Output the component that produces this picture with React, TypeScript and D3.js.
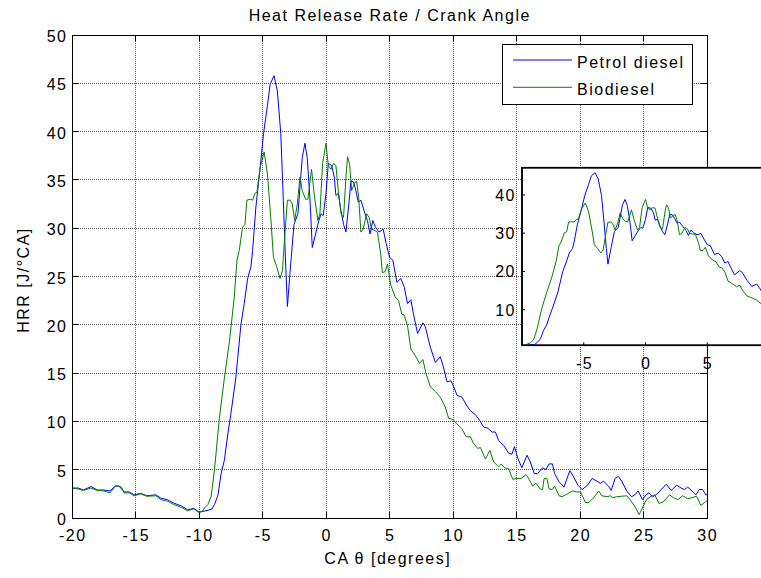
import React from "react";
import * as d3 from "d3";

// Crank angle (degrees) and heat release rate (J/°CA)
const petrolX = [-20, -19.5, -19.1, -18.5, -18, -17.5, -17, -16.6, -16.3, -15.9, -15.5, -15.1, -14.6, -14.1, -13.4, -13, -12.5, -12, -11.4, -10.9, -10.4, -10, -9.45, -9.0, -8.78, -8.5, -8.26, -8.0, -7.74, -7.5, -7.1, -6.7, -6.44, -6.17, -5.91, -5.78, -5.52, -5.18, -4.92, -4.61, -4.4, -4.09, -3.83, -3.56, -3.36, -3.17, -3.04, -2.78, -2.52, -2.21, -1.87, -1.66, -1.48, -1.27, -1.08, -0.82, -0.56, -0.38, -0.22, 0, 0.18, 0.44, 0.65, 0.78, 0.97, 1.18, 1.38, 1.57, 1.83, 1.96, 2.17, 2.35, 2.54, 2.75, 3.0, 3.26, 3.47, 3.68, 3.9, 4.17, 4.5, 4.74, 5.0, 5.26, 5.58, 5.89, 6.16, 6.42, 6.68, 6.89, 7.21, 7.63, 7.82, 8.21, 8.61, 9.0, 9.21, 9.53, 9.84, 10.05, 10.32, 10.71, 11.05, 11.37, 11.76, 12.1, 12.42, 12.74, 13.08, 13.34, 13.6, 14.0, 14.38, 14.64, 14.84, 15.1, 15.42, 15.83, 16.09, 16.4, 16.66, 17.05, 17.31, 17.57, 17.83, 18.0, 18.35, 18.74, 19.2, 19.52, 19.83, 20.17, 20.6, 20.95, 21.34, 21.6, 21.86, 22.25, 22.45, 22.77, 23.03, 23.29, 23.68, 24.06, 24.32, 24.58, 24.92, 25.18, 25.44, 25.7, 26.0, 26.4, 26.79, 27.18, 27.62, 27.96, 28.22, 28.48, 28.82, 29.13, 29.4, 29.65, 29.9, 30];
const petrolY = [3.1, 3.1, 2.9, 3.25, 2.9, 2.9, 2.8, 3.3, 3.3, 2.7, 2.7, 2.4, 2.55, 2.3, 2.4, 2.05, 1.9, 1.55, 1.25, 0.85, 1.0, 0.6, 0.75, 0.9, 1.4, 2.4, 4.6, 6.0, 8.6, 10.7, 14.5, 20.0, 22.2, 24.8, 26.0, 27.7, 32.2, 36.3, 39.8, 42.7, 44.9, 45.8, 44.2, 39.8, 32.9, 26.0, 21.9, 26.3, 30.4, 31.5, 37.3, 38.8, 37.3, 33.2, 28.0, 29.4, 30.8, 31.5, 31.3, 33.6, 36.7, 36.5, 35.3, 33.4, 33.6, 31.8, 30.4, 29.6, 32.9, 34.9, 34.8, 33.9, 32.7, 32.9, 31.8, 30.8, 29.4, 30.8, 30.1, 29.6, 29.9, 28.4, 27.0, 26.7, 24.4, 24.8, 23.9, 22.2, 22.6, 21.1, 19.1, 20.2, 19.8, 17.7, 16.1, 16.7, 15.8, 14.1, 14.2, 13.6, 12.7, 12.5, 11.7, 11.1, 10.7, 10.1, 9.4, 9.3, 8.9, 8.9, 8.0, 7.5, 6.7, 6.6, 7.4, 6.2, 5.2, 6.5, 5.8, 4.6, 4.6, 5.2, 5.0, 5.6, 5.6, 4.6, 3.75, 3.2, 4.9, 4.2, 3.4, 2.95, 3.4, 4.1, 3.8, 3.6, 3.8, 3.3, 2.85, 4.1, 4.3, 3.8, 2.8, 2.2, 2.4, 2.8, 1.9, 2.4, 2.6, 2.2, 2.4, 2.95, 3.5, 2.85, 3.4, 3.1, 2.95, 3.2, 2.8, 2.4, 2.95, 2.95, 2.4, 2.4];

const bioX = [-20, -19.5, -19.1, -18.5, -18, -17.5, -17, -16.6, -16.4, -16.1, -15.9, -15.5, -15.1, -14.6, -14.1, -13.4, -13, -12.5, -12, -11.4, -10.9, -10.4, -10, -9.7, -9.56, -9.3, -9.05, -8.78, -8.4, -8.0, -7.6, -7.22, -7.01, -6.83, -6.57, -6.38, -6.23, -5.97, -5.78, -5.6, -5.44, -5.18, -4.87, -4.61, -4.35, -4.14, -3.88, -3.62, -3.43, -3.25, -3.04, -2.83, -2.65, -2.47, -2.26, -2.05, -1.87, -1.61, -1.42, -1.14, -0.9, -0.64, -0.48, -0.27, 0, 0.18, 0.39, 0.6, 0.78, 0.97, 1.18, 1.38, 1.57, 1.7, 1.86, 2.02, 2.23, 2.41, 2.57, 2.75, 2.93, 3.2, 3.4, 3.58, 3.79, 4.05, 4.31, 4.44, 4.66, 4.84, 5.1, 5.45, 5.71, 5.97, 6.16, 6.42, 6.68, 7.03, 7.37, 7.63, 7.89, 8.21, 8.61, 9.0, 9.39, 9.66, 10.0, 10.26, 10.71, 11.05, 11.37, 11.63, 11.95, 12.16, 12.55, 12.9, 13.2, 13.6, 13.8, 14.06, 14.38, 14.71, 14.97, 15.36, 15.75, 16.0, 16.27, 16.53, 16.87, 17.05, 17.18, 17.39, 17.57, 17.83, 18.0, 18.35, 18.6, 19.0, 19.4, 19.73, 20.04, 20.25, 20.43, 20.69, 21.08, 21.47, 21.73, 22.12, 22.38, 22.58, 22.9, 23.29, 23.68, 23.94, 24.32, 24.66, 24.92, 25.23, 25.55, 25.88, 26.22, 26.58, 27.05, 27.36, 27.7, 28.09, 28.48, 28.82, 29.18, 29.52, 29.9, 30];
const bioY = [3.1, 3.0, 2.85, 3.1, 2.85, 2.8, 2.6, 3.3, 3.35, 3.2, 2.6, 2.6, 2.3, 2.5, 2.25, 2.3, 1.9, 1.75, 1.4, 1.1, 0.75, 0.95, 0.55, 0.75, 1.05, 1.4, 2.2, 5.0, 10.3, 14.5, 18.3, 22.9, 26.7, 27.7, 30.1, 30.4, 32.9, 33.0, 32.9, 33.6, 33.7, 36.3, 37.9, 35.6, 31.1, 27.0, 26.0, 24.8, 25.6, 29.1, 32.9, 32.9, 32.5, 30.8, 32.5, 35.3, 33.9, 33.0, 33.0, 36.1, 33.2, 30.8, 31.5, 36.7, 38.8, 36.5, 36.1, 36.7, 36.5, 33.9, 31.5, 31.1, 35.3, 37.4, 36.6, 33.9, 34.6, 34.9, 33.2, 29.6, 29.9, 31.5, 31.1, 29.9, 29.8, 29.6, 27.3, 25.4, 25.5, 26.3, 24.1, 22.9, 22.5, 21.1, 21.0, 19.9, 17.5, 16.8, 16.0, 16.4, 14.9, 13.6, 13.1, 12.5, 11.5, 10.3, 10.2, 9.8, 9.2, 8.4, 8.4, 7.7, 7.2, 7.3, 6.1, 7.0, 5.8, 5.3, 5.6, 5.2, 5.1, 4.0, 4.1, 4.1, 4.5, 4.0, 3.3, 3.6, 3.0, 2.95, 4.1, 4.1, 3.0, 2.95, 3.3, 2.3, 2.2, 2.5, 2.8, 2.7, 2.7, 2.1, 1.6, 1.6, 2.1, 2.8, 2.3, 2.2, 2.3, 2.1, 2.2, 2.25, 2.3, 1.9, 1.2, 0.35, 1.05, 1.9, 2.2, 2.4, 1.5, 1.7, 2.4, 2.1, 1.9, 2.3, 2.0, 2.1, 2.25, 1.3, 1.7, 1.8];

const xTicks = [-20, -15, -10, -5, 0, 5, 10, 15, 20, 25, 30];
const yTicks = [0, 5, 10, 15, 20, 25, 30, 35, 40, 45, 50];
const insetXTicks = [-5, 0, 5];
const insetYTicks = [10, 20, 30, 40];
const seriesNames = ["Petrol diesel", "Biodiesel"];
const seriesColors = ["#0000ff", "#008000"];

const FONT = "'Liberation Sans', Arial, Helvetica, sans-serif";
const LS = 1.5;

export default function App() {
  const x = d3.scaleLinear().domain([-20, 30]).range([72, 707]);
  const y = d3.scaleLinear().domain([0, 50]).range([518, 35]);
  const ix = d3.scaleLinear().domain([-10, 10]).range([522, 769]);
  const iy = d3.scaleLinear().domain([0.7, 47.1]).range([345.3, 167.7]);

  const petrol = petrolX.map((v, i) => [v, petrolY[i]] as [number, number]);
  const bio = bioX.map((v, i) => [v, bioY[i]] as [number, number]);
  const series = [petrol, bio];

  const mainLine = d3.line<[number, number]>().x(d => x(d[0])).y(d => y(d[1]));
  const insetLine = d3.line<[number, number]>().x(d => ix(d[0])).y(d => iy(d[1]));

  const [x0, x1] = x.range();
  const [y0, y1] = y.range();
  const tl = 6;

  return (
    <svg width={761} height={578} style={{ position: "absolute", left: 0, top: 0, background: "#fff" }} fontFamily={FONT}>
      <rect x={0} y={0} width={761} height={578} fill="#fff" />
      <defs>
        <clipPath id="mainClip"><rect x={x0} y={y1} width={x1 - x0} height={y0 - y1} /></clipPath>
        <clipPath id="insetClip"><rect x={ix(-10)} y={iy.range()[1]} width={ix(10) - ix(-10)} height={iy.range()[0] - iy.range()[1]} /></clipPath>
      </defs>
      {/* grid */}
      <g stroke="#555" strokeWidth={1} strokeDasharray="1,1" shapeRendering="crispEdges">
        {xTicks.map(t => <line key={"gx" + t} x1={x(t)} x2={x(t)} y1={y1} y2={y0} />)}
        {yTicks.map(t => <line key={"gy" + t} x1={x0} x2={x1} y1={y(t)} y2={y(t)} />)}
      </g>
      {/* ticks */}
      <g stroke="#000" strokeWidth={1} shapeRendering="crispEdges">
        {xTicks.map(t => <line key={"tb" + t} x1={x(t)} x2={x(t)} y1={y0} y2={y0 - tl} />)}
        {xTicks.map(t => <line key={"tt" + t} x1={x(t)} x2={x(t)} y1={y1} y2={y1 + tl} />)}
        {yTicks.map(t => <line key={"tl" + t} x1={x0} x2={x0 + tl} y1={y(t)} y2={y(t)} />)}
        {yTicks.map(t => <line key={"tr" + t} x1={x1} x2={x1 - tl} y1={y(t)} y2={y(t)} />)}
      </g>
      {/* data */}
      <g clipPath="url(#mainClip)" fill="none">
        {series.map((s, i) => (
          <path key={"m" + i} d={mainLine(s) || ""} stroke={seriesColors[i]} strokeWidth={1} strokeLinejoin="round" />
        ))}
      </g>
      {/* frame */}
      <rect x={x0} y={y1} width={x1 - x0} height={y0 - y1} fill="none" stroke="#000" strokeWidth={1} shapeRendering="crispEdges" />
      {/* tick labels */}
      <g fontSize={16} fill="#000" letterSpacing={LS}>
        {xTicks.map(t => (
          <text key={"lx" + t} x={x(t) + LS / 2} y={541} textAnchor="middle">{t}</text>
        ))}
        {yTicks.map(t => (
          <text key={"ly" + t} x={66 + LS} y={y(t) + 7} textAnchor="end">{t}</text>
        ))}
      </g>
      {/* title and axis labels */}
      <text x={389 + LS / 2} y={21} textAnchor="middle" fontSize={16} letterSpacing={LS}>Heat Release Rate / Crank Angle</text>
      <text x={387 + LS / 2} y={564} textAnchor="middle" fontSize={16} letterSpacing={LS}>CA θ [degrees]</text>
      <text transform="translate(29,280) rotate(-90)" textAnchor="middle" fontSize={16} letterSpacing={LS}>HRR [J/°CA]</text>
      {/* legend */}
      <g>
        <rect x={502} y={44.5} width={190} height={59.5} fill="#fff" stroke="#000" strokeWidth={1} shapeRendering="crispEdges" />
        {seriesNames.map((n, i) => (
          <g key={"lg" + i}>
            <line x1={513} x2={572} y1={60 + i * 27.3} y2={60 + i * 27.3} stroke={seriesColors[i]} strokeWidth={1} />
            <text x={577} y={67.5 + i * 27.3} fontSize={16} letterSpacing={LS}>{n}</text>
          </g>
        ))}
      </g>
      {/* inset */}
      <g>
        <rect x={ix(-10)} y={iy.range()[1]} width={ix(10) - ix(-10)} height={iy.range()[0] - iy.range()[1]} fill="#fff" stroke="#000" strokeWidth={1.5} />
        <g clipPath="url(#insetClip)" fill="none">
          {series.map((s, i) => (
            <path key={"i" + i} d={insetLine(s) || ""} stroke={seriesColors[i]} strokeWidth={1} strokeLinejoin="round" />
          ))}
        </g>
        <rect x={ix(-10)} y={iy.range()[1]} width={ix(10) - ix(-10)} height={iy.range()[0] - iy.range()[1]} fill="none" stroke="#000" strokeWidth={1.5} />
        <g stroke="#000" strokeWidth={1}>
          {insetXTicks.map(t => <line key={"itx" + t} x1={ix(t)} x2={ix(t)} y1={iy.range()[0]} y2={iy.range()[0] - 3} />)}
          {insetYTicks.map(t => <line key={"ity" + t} x1={ix(-10)} x2={ix(-10) + 3} y1={iy(t)} y2={iy(t)} />)}
        </g>
        <g fontSize={16} fill="#000" letterSpacing={LS}>
          {insetXTicks.map(t => (
            <text key={"ilx" + t} x={ix(t) + LS / 2} y={369} textAnchor="middle">{t}</text>
          ))}
          {insetYTicks.map(t => (
            <text key={"ily" + t} x={514.5 + LS} y={iy(t) + 6} textAnchor="end">{t}</text>
          ))}
        </g>
      </g>
    </svg>
  );
}
